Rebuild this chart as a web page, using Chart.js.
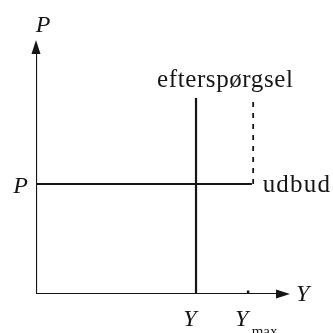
<!DOCTYPE html>
<html>
<head>
<meta charset="utf-8">
<script src="https://cdn.jsdelivr.net/npm/chart.js@4/dist/chart.umd.min.js"></script>
<style>
html,body{margin:0;padding:0;background:#fff;}
#wrap{width:333px;height:333px;}
</style>
</head>
<body>
<div id="wrap"><canvas id="c" width="333" height="333"></canvas></div>
<script>
// Values (arbitrary units, axes 0..10)
const axisMax = [10, 10];           // [x, y]
const priceLevel = [4.33];          // P (udbud, horizontal)
const demandX = [6.3];              // Y (efterspørgsel, vertical)
const demandTop = [7.72];
const yMax = [8.45];                // Y_max
const dashTop = [7.64];
const labels = ['P', 'Y', 'efterspørgsel', 'udbud', 'Y', 'max'];

const ink = '#161616';

const labelPlugin = {
  id: 'labels',
  afterDatasetsDraw(chart) {
    const ctx = chart.ctx;
    const xs = chart.scales.x, ys = chart.scales.y;
    const X = v => xs.getPixelForValue(v);
    const Yp = v => ys.getPixelForValue(v);
    ctx.save();
    ctx.fillStyle = ink;
    // arrowheads
    const ox = X(0), oy = Yp(0);
    const topY = Yp(axisMax[1]);
    ctx.beginPath();
    ctx.moveTo(ox, topY);
    ctx.lineTo(ox - 4.5, topY + 14);
    ctx.lineTo(ox + 4.5, topY + 14);
    ctx.closePath();
    ctx.fill();
    const rx = X(axisMax[0]);
    ctx.beginPath();
    ctx.moveTo(rx, oy);
    ctx.lineTo(rx - 14, oy - 4.5);
    ctx.lineTo(rx - 14, oy + 4.5);
    ctx.closePath();
    ctx.fill();

    // texts
    ctx.textBaseline = 'alphabetic';
    ctx.font = 'italic 24px "Liberation Serif"';
    ctx.textAlign = 'center';
    ctx.fillText(labels[0], ox + 7, topY - 8);            // P (axis)
    ctx.textAlign = 'right';
    ctx.fillText(labels[0], ox - 8, Yp(priceLevel[0]) + 9); // P level
    ctx.textAlign = 'left';
    ctx.fillText(labels[1], rx + 6, oy + 7);              // Y (axis)
    ctx.textAlign = 'center';
    ctx.fillText(labels[1], X(demandX[0]) - 6, oy + 32);  // Y
    ctx.fillText(labels[4], X(yMax[0]) - 9, oy + 32);     // Y_max
    ctx.font = '15px "Liberation Serif"';
    ctx.textAlign = 'left';
    ctx.fillText(labels[5], X(yMax[0]) + 1, oy + 42);

    ctx.font = '25px "Liberation Serif"';
    ctx.letterSpacing = '0.6px';
    ctx.textAlign = 'left';
    ctx.fillText(labels[2], X(demandX[0]) - 39, Yp(demandTop[0]) - 11);
    ctx.letterSpacing = '1.2px';
    ctx.fillText(labels[3], X(yMax[0]) + 12, Yp(priceLevel[0]) + 8);
    ctx.restore();
  }
};

const lineDs = (data, extra) => Object.assign({
  data, borderColor: ink, borderWidth: 2.2, pointRadius: 0, showLine: true, fill: false,
  borderCapStyle: 'butt'
}, extra || {});

new Chart(document.getElementById('c'), {
  type: 'scatter',
  data: {
    datasets: [
      lineDs([{x: 0, y: 0}, {x: 0, y: axisMax[1] - 0.3}]),
      lineDs([{x: 0, y: 0}, {x: axisMax[0] - 0.3, y: 0}]),
      lineDs([{x: 0, y: priceLevel[0]}, {x: yMax[0] + 0.05, y: priceLevel[0]}]),
      lineDs([{x: demandX[0], y: 0}, {x: demandX[0], y: demandTop[0]}]),
      lineDs([{x: yMax[0] + 0.1, y: priceLevel[0]}, {x: yMax[0] + 0.1, y: dashTop[0]}], {borderDash: [5, 6], borderWidth: 1.8}),
      {data: [{x: yMax[0] - 0.1, y: 0}], pointStyle: 'line', rotation: 90, pointRadius: 3.5,
       borderColor: ink, pointBorderWidth: 2.5, showLine: false}
    ]
  },
  options: {
    responsive: false,
    animation: false,
    devicePixelRatio: 1,
    layout: {padding: {left: 36, right: 43, top: 40, bottom: 39}},
    plugins: {legend: {display: false}, tooltip: {enabled: false}},
    scales: {
      x: {type: 'linear', min: 0, max: axisMax[0], display: false},
      y: {type: 'linear', min: 0, max: axisMax[1], display: false}
    }
  },
  plugins: [labelPlugin]
});
</script>
</body>
</html>
